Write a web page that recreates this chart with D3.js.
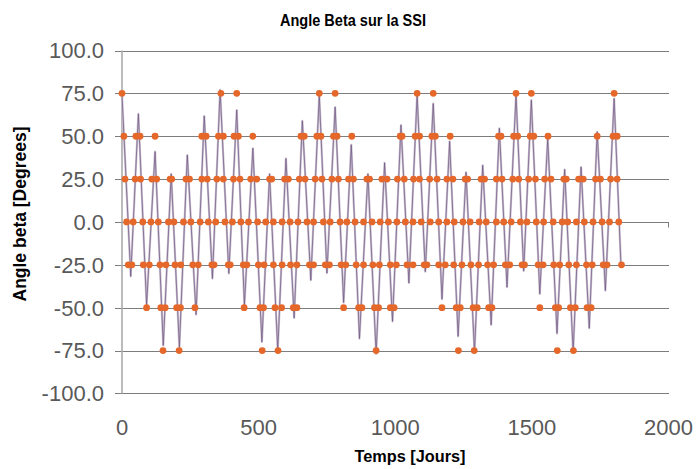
<!DOCTYPE html>
<html><head><meta charset="utf-8">
<script src="https://cdn.jsdelivr.net/npm/d3@7/dist/d3.min.js"></script>
<style>html,body{margin:0;padding:0;background:#fff}svg{display:block}</style>
</head><body>
<script>
// ---- data ----
const title = "Angle Beta sur la SSI";
const xTitle = "Temps [Jours]";
const yTitle = "Angle beta [Degrees]";
const xTicks = [0, 500, 1000, 1500, 2000];
const yTicks = [100, 75, 50, 25, 0, -25, -50, -75, -100];

// line: alternating peaks/troughs of the beta angle
const lineDays = [0,32,60,90,121,151,180,210,239,271,301,331,359,391,420,448,479,512,540,570,600,630,660,691,722,750,780,811,839,869,900,930,961,990,1021,1050,1080,1110,1139,1171,1199,1230,1259,1290,1320,1351,1381,1409,1442,1470,1498,1529,1558,1592,1620,1651,1680,1710,1739,1769,1801,1826];
const lineBeta = [74,-31.7,63,-48.6,41,-72,28,-73,39,-54,61.8,-33,77,-30,65.3,-48.6,43,-70,28,-75,37,-56,59,-34,74,-29.8,67,-47,45,-68,28,-77,34.5,-58,56.5,-35.6,74,-29,69,-45,47,-66.7,29,-76,33,-60,54.6,-38,74,-28.6,71,-42,48.7,-65,30.6,-76,32,-62,52.6,-40,72,-25];

// markers, grouped by level (days)
const dots75 = [0,362,420,722,780,1080,1139,1442,1498,1801];
const dots50 = [7,51,66,121,292,308,353,371,410,426,479,655,667,713,728,774,787,841,1018,1025,1073,1089,1134,1147,1201,1378,1387,1433,1448,1494,1507,1559,1739,1797,1812];
const dots25 = [11,48,68,109,127,176,182,234,247,292,312,347,371,408,432,471,493,540,548,595,609,649,670,707,732,768,792,829,847,896,906,951,970,1008,1033,1067,1089,1126,1153,1189,1211,1256,1265,1314,1327,1370,1391,1430,1452,1488,1513,1547,1570,1617,1626,1671,1688,1733,1751,1788,1812];
const dots0 = [17,41,76,106,133,170,190,225,252,286,316,343,377,404,435,463,496,526,554,586,615,644,677,701,737,762,798,823,853,884,915,945,975,1006,1037,1065,1095,1128,1159,1189,1216,1248,1274,1307,1333,1370,1397,1424,1458,1482,1516,1543,1578,1611,1631,1663,1692,1724,1757,1784,1818];
const dotsM25 = [23,36,78,100,139,161,194,215,259,279,329,337,389,396,444,457,499,520,554,586,617,640,686,701,744,759,802,819,857,884,918,942,982,1004,1043,1065,1106,1116,1159,1183,1214,1244,1277,1305,1338,1360,1403,1419,1464,1473,1523,1541,1580,1602,1635,1663,1700,1721,1761,1775,1828];
const dotsM50 = [90,142,158,200,214,267,447,505,518,560,584,627,640,811,866,878,924,939,982,996,1171,1223,1238,1285,1300,1342,1354,1529,1586,1598,1641,1659,1702,1717];
const dotsM75 = [150,209,513,571,930,1231,1289,1593,1652];
const dotLevels = [75, 50, 25, 0, -25, -50, -75];
const dotDays = [dots75, dots50, dots25, dots0, dotsM25, dotsM50, dotsM75];

// ---- drawing ----
const W = 696, H = 469;
const svg = d3.select("body").append("svg").attr("width", W).attr("height", H);
const x = d3.scaleLinear().domain([0, 2000]).range([122, 668.5]);
const y = d3.scaleLinear().domain([-100, 100]).range([393.4, 50.5]);
const font = "'Liberation Sans', Arial, sans-serif";

// gridlines (also left ticks)
svg.append("g").selectAll("line").data(yTicks).join("line")
  .attr("x1", 115).attr("x2", 669)
  .attr("y1", d => Math.round(y(d)) + 0.5).attr("y2", d => Math.round(y(d)) + 0.5)
  .attr("stroke", "#7d7d7d").attr("stroke-width", 1);

// small tick at end of zero line
svg.append("line").attr("x1", 668.5).attr("x2", 668.5)
  .attr("y1", Math.round(y(0)) + 0.5).attr("y2", Math.round(y(0)) + 5.5)
  .attr("stroke", "#7d7d7d");

// y axis line
svg.append("line").attr("x1", x(0)).attr("x2", x(0))
  .attr("y1", y(100)).attr("y2", y(-100))
  .attr("stroke", "#ababab").attr("stroke-width", 1.6);

// y tick labels
svg.append("g").selectAll("text").data(yTicks).join("text")
  .attr("x", 104).attr("y", d => y(d)).attr("dy", "0.36em")
  .attr("text-anchor", "end").attr("font-family", font).attr("font-size", 22)
  .attr("fill", "#595959").text(d => d.toFixed(1));

// x tick labels
svg.append("g").selectAll("text").data(xTicks).join("text")
  .attr("x", d => x(d)).attr("y", 435)
  .attr("text-anchor", "middle").attr("font-family", font).attr("font-size", 22)
  .attr("fill", "#595959").text(d => d);

// line
const pts = lineDays.map((d, i) => [d, lineBeta[i]]);
const lineGen = d3.line().x(d => x(d[0])).y(d => y(d[1]));
svg.append("path").attr("d", lineGen(pts)).attr("fill", "none")
  .attr("stroke", "#cbc1d1").attr("stroke-width", 2.2).attr("stroke-linejoin", "round");
svg.append("path").attr("d", lineGen(pts)).attr("fill", "none")
  .attr("stroke", "#6d5480").attr("stroke-width", 0.7).attr("stroke-linejoin", "round");

// markers
const dotData = [];
dotLevels.forEach((lv, i) => dotDays[i].forEach(d => dotData.push([d, lv])));
svg.append("g").selectAll("circle").data(dotData).join("circle")
  .attr("cx", d => x(d[0])).attr("cy", d => y(d[1])).attr("r", 3.4)
  .attr("fill", "#e5682a");

// titles
svg.append("text").attr("x", 353).attr("y", 25.5).attr("text-anchor", "middle")
  .attr("font-family", font).attr("font-weight", "bold").attr("font-size", 16)
  .attr("textLength", 146).attr("lengthAdjust", "spacingAndGlyphs")
  .attr("fill", "#000").text(title);
svg.append("text").attr("x", 410).attr("y", 462).attr("text-anchor", "middle")
  .attr("font-family", font).attr("font-weight", "bold").attr("font-size", 16)
  .attr("textLength", 111).attr("lengthAdjust", "spacingAndGlyphs")
  .attr("fill", "#000").text(xTitle);
svg.append("text").attr("transform", "translate(26,214) rotate(-90)")
  .attr("text-anchor", "middle")
  .attr("font-family", font).attr("font-weight", "bold").attr("font-size", 17.5)
  .attr("textLength", 175).attr("lengthAdjust", "spacingAndGlyphs")
  .attr("fill", "#000").text(yTitle);
</script>
</body></html>
